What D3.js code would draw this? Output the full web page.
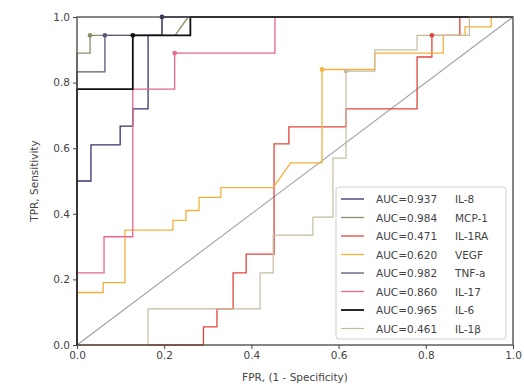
<!DOCTYPE html>
<html><head><meta charset="utf-8">
<script src="https://cdn.jsdelivr.net/npm/d3@7"></script>
<style>
html,body{margin:0;padding:0;background:#fff;}
svg{display:block;font-family:"DejaVu Sans",sans-serif;}
</style></head>
<body><svg id="c" width="524" height="385"></svg>
<script>
// ---- data ----
const labels = ["IL-8","MCP-1","IL-1RA","VEGF","TNF-a","IL-17","IL-6","IL-1β"];
const aucs = ["0.937","0.984","0.471","0.620","0.982","0.860","0.965","0.461"];
const xTicks = [0,0.2,0.4,0.6,0.8,1.0];
const yTicks = [0,0.2,0.4,0.6,0.8,1.0];

const fprIL8  = [0,0,0.032,0.032,0.099,0.099,0.128,0.128,0.163,0.163,0.195,0.195,1];
const tprIL8  = [0,0.5,0.5,0.61,0.61,0.667,0.667,0.72,0.72,0.944,0.944,1,1];
const fprMCP1 = [0,0,0.03,0.03,0.225,0.255,1];
const tprMCP1 = [0,0.89,0.89,0.944,0.944,1,1];
const fprIL1RA = [0,0.29,0.29,0.321,0.321,0.358,0.358,0.388,0.388,0.452,0.452,0.486,0.486,0.617,0.617,0.78,0.78,0.814,0.814,0.878,0.878,1];
const tprIL1RA = [0,0,0.055,0.055,0.11,0.11,0.22,0.22,0.277,0.277,0.613,0.613,0.665,0.665,0.72,0.72,0.878,0.878,0.944,0.944,1,1];
const fprVEGF = [0,0,0.06,0.06,0.11,0.11,0.22,0.22,0.25,0.25,0.28,0.28,0.33,0.33,0.45,0.49,0.562,0.562,0.683,0.683,0.84,0.84,0.89,0.89,0.95,0.95,1];
const tprVEGF = [0,0.16,0.16,0.19,0.19,0.35,0.35,0.38,0.38,0.41,0.41,0.45,0.45,0.48,0.48,0.555,0.555,0.84,0.84,0.89,0.89,0.944,0.944,0.97,0.97,1,1];
const fprTNF  = [0,0,0.064,0.064,0.195,0.195,1];
const tprTNF  = [0,0.833,0.833,0.944,0.944,1,1];
const fprIL17 = [0,0,0.062,0.062,0.128,0.128,0.224,0.224,0.454,0.454,1];
const tprIL17 = [0,0.22,0.22,0.33,0.33,0.78,0.78,0.89,0.89,1,1];
const fprIL6  = [0,0,0.128,0.128,0.26,0.26,1];
const tprIL6  = [0,0.78,0.78,0.944,0.944,1,1];
const fprIL1B = [0,0.163,0.163,0.42,0.42,0.45,0.45,0.541,0.541,0.587,0.587,0.617,0.617,0.683,0.683,0.78,0.78,0.9,0.9,1];
const tprIL1B = [0,0,0.11,0.11,0.22,0.22,0.335,0.335,0.39,0.39,0.57,0.57,0.835,0.835,0.9,0.9,0.944,0.944,1,1];

// optimal-threshold markers (fpr, tpr) per series
const markFpr = [0.195,0.03,0.814,0.562,0.064,0.224,0.128,0.617];
const markTpr = [1.0,0.944,0.944,0.84,0.944,0.89,0.944,0.835];

const fprs = [fprIL8,fprMCP1,fprIL1RA,fprVEGF,fprTNF,fprIL17,fprIL6,fprIL1B];
const tprs = [tprIL8,tprMCP1,tprIL1RA,tprVEGF,tprTNF,tprIL17,tprIL6,tprIL1B];

// ---- styles ----
const colors = ["#34346e","#8c9068","#e2443c","#f2b23a","#5a5a78","#e8658e","#111111","#c8bca0"];
const widths = [1.3,1.3,1.3,1.3,1.3,1.3,1.8,1.2];

const svg = d3.select("#c");
const L=77,R=513,T=17,B=345;
const x = d3.scaleLinear().domain([0,1]).range([L,R]);
const y = d3.scaleLinear().domain([0,1]).range([B,T]);

// diagonal
svg.append("line").attr("x1",x(0)).attr("y1",y(0)).attr("x2",x(1)).attr("y2",y(1))
  .attr("stroke","#9aa0aa").attr("stroke-width",1.1);

const line = d3.line().x(d=>x(d[0])).y(d=>y(d[1]));
fprs.forEach((f,i)=>{
  const pts = f.map((v,j)=>[v,tprs[i][j]]);
  svg.append("path").attr("d",line(pts)).attr("fill","none")
    .attr("stroke",colors[i]).attr("stroke-width",widths[i]);
});
markFpr.forEach((f,i)=>{
  svg.append("circle").attr("cx",x(f)).attr("cy",y(markTpr[i])).attr("r",2.4)
    .attr("fill",colors[i]);
});

// axes
const xa = svg.append("g").attr("transform",`translate(0,${B})`)
  .call(d3.axisBottom(x).tickValues(xTicks).tickFormat(d3.format(".1f")).tickSize(4).tickPadding(3));
const ya = svg.append("g").attr("transform",`translate(${L},0)`)
  .call(d3.axisLeft(y).tickValues(yTicks).tickFormat(d3.format(".1f")).tickSize(4).tickPadding(3));
[xa,ya].forEach(g=>{
  g.select(".domain").remove();
  g.selectAll(".tick line").attr("stroke","#444");
  g.selectAll(".tick text").attr("fill","#444").style("font-size","10.5px").style("font-family","DejaVu Sans");
});
// frame
svg.append("rect").attr("x",L).attr("y",T).attr("width",R-L).attr("height",B-T)
  .attr("fill","none").attr("stroke","#444").attr("stroke-width",1.3);

svg.append("text").attr("x",(L+R)/2).attr("y",381).attr("text-anchor","middle")
  .attr("fill","#444").style("font-size","10.5px").text("FPR, (1 - Specificity)");
svg.append("text").attr("transform",`translate(38,${(T+B)/2}) rotate(-90)`).attr("text-anchor","middle")
  .attr("fill","#444").style("font-size","10.5px").text("TPR, Sensitivity");

// legend
const lg = svg.append("g");
lg.append("rect").attr("x",336).attr("y",187).attr("width",170).attr("height",152).attr("rx",3)
  .attr("fill","#fff").attr("fill-opacity",0.85).attr("stroke","#d0d0d0");
labels.forEach((lab,i)=>{
  const yy = 199 + i*18.5;
  lg.append("line").attr("x1",341).attr("x2",364).attr("y1",yy).attr("y2",yy)
    .attr("stroke",colors[i]).attr("stroke-width",widths[i]);
  lg.append("text").attr("x",376).attr("y",yy+4).attr("fill","#444").style("font-size","10.5px")
    .text("AUC="+aucs[i]);
  lg.append("text").attr("x",455).attr("y",yy+4).attr("fill","#444").style("font-size","10.5px")
    .text(lab);
});
</script></body></html>
